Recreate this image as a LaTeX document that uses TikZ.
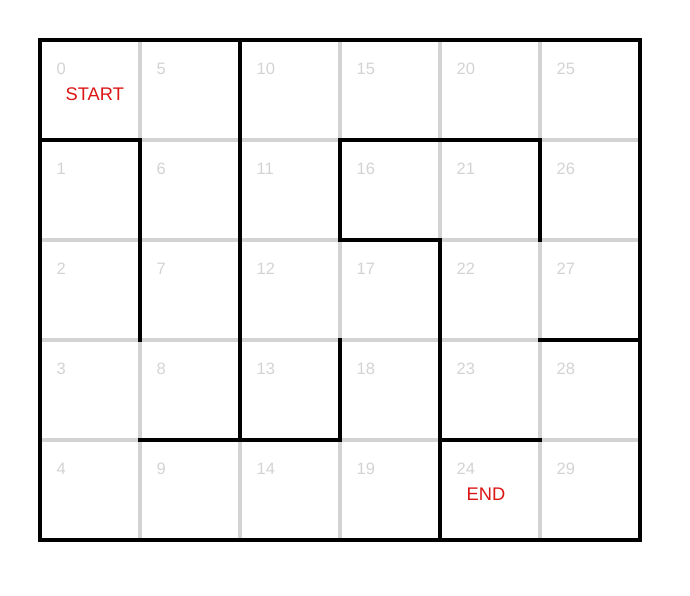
\documentclass[tikz,border=0pt]{standalone}
\usepackage{fontspec}
\setmainfont{Liberation Sans}
\usetikzlibrary{positioning}
\definecolor{cellgray}{RGB}{211,211,211}
\definecolor{markred}{RGB}{220,20,20}

\begin{document}
\begin{tikzpicture}[
            x=1cm, y=1cm,
            cellline/.style={draw=cellgray, line width=1.25pt},
            wall/.style={draw=black, line width=1.35pt, line cap=rect},
            cellnum/.style={anchor=west, inner sep=0pt, text=cellgray, font=\fontsize{4.7}{5.5}\selectfont},
            marker/.style={anchor=west, inner sep=0pt, text=markred, font=\fontsize{5.2}{6}\selectfont}
        ]
\useasboundingbox (-0.4,0.4) rectangle (6.5,-5.56);

% Grid
            \foreach \c in {1,...,5} \draw[cellline] (\c,0) -- (\c,-5);
            \foreach \r in {1,...,4} \draw[cellline] (0,-\r) -- (6,-\r);

% Cell numbers
            \foreach \c in {0,...,5}
                \foreach \r in {0,...,4} {
                    \pgfmathtruncatemacro{\idx}{5*\c+\r}
                    \node[cellnum] (n\idx) at (\c+0.16,-\r-0.29) {\idx};
                }
            \node[marker] (start) at (0.25,-0.54) {START};
            \node[marker] (end) at (4.26,-0.54-4) {END};

% Walls
            \draw[wall] (0,0) rectangle (6,-5);
            \draw[wall] (0,-1) -- (1,-1) -- (1,-3);
            \draw[wall] (2,0) -- (2,-4);
            \draw[wall] (3,-2) -- (3,-1) -- (5,-1) -- (5,-2);
            \draw[wall] (3,-2) -- (4,-2) -- (4,-5);
            \draw[wall] (5,-3) -- (6,-3);
            \draw[wall] (3,-3) -- (3,-4) -- (1,-4);
            \draw[wall] (4,-4) -- (5,-4);

        \end{tikzpicture}
\end{document}
